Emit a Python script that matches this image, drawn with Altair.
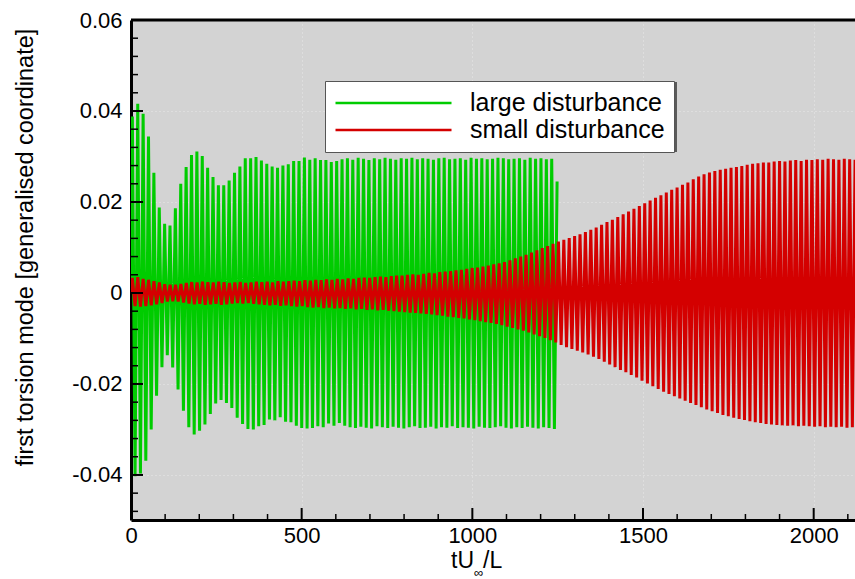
import altair as alt
import pandas as pd

# ---------------- data ----------------
series_names = ["large disturbance", "small disturbance"]
series_colors = ["#00cc00", "#d40000"]

# large disturbance: successive peak / trough values of the oscillation
large_first_peak = 4.0
large_period = 15.75
large_peaks = [
    0.0388, 0.0416, 0.0394, 0.0344, 0.0264, 0.0188, 0.0152, 0.0148, 0.0186, 0.0240,
    0.0277, 0.0303, 0.0311, 0.0301, 0.0275, 0.0255, 0.0237, 0.0237, 0.0247, 0.0264,
    0.0278, 0.0296, 0.0296, 0.0299, 0.0291, 0.0284, 0.0278, 0.0275, 0.0280, 0.0283,
    0.0290, 0.0290, 0.0298, 0.0293, 0.0296, 0.0292, 0.0292, 0.0288, 0.0290,
    0.0294, 0.0296, 0.0293, 0.0297, 0.0295, 0.0292, 0.0296, 0.0294, 0.0297, 0.0295,
    0.0293, 0.0296, 0.0295, 0.0297, 0.0294, 0.0296, 0.0295, 0.0293, 0.0296, 0.0297,
    0.0294, 0.0295, 0.0296, 0.0293, 0.0297, 0.0295, 0.0296, 0.0294, 0.0295, 0.0297,
    0.0296, 0.0294, 0.0295, 0.0296, 0.0293, 0.0297, 0.0295, 0.0296, 0.0294, 0.0295,
    0.0245,
]
large_troughs = [
    -0.0403, -0.0397, -0.0369, -0.0300, -0.0226, -0.0163, -0.0137, -0.0164, -0.0212, -0.0259,
    -0.0295, -0.0311, -0.0303, -0.0289, -0.0266, -0.0243, -0.0235, -0.0242, -0.0253, -0.0274,
    -0.0288, -0.0299, -0.0300, -0.0293, -0.0290, -0.0278, -0.0280, -0.0273, -0.0283, -0.0284,
    -0.0292, -0.0297, -0.0298, -0.0297, -0.0293, -0.0295, -0.0287, -0.0292, -0.0286,
    -0.0292, -0.0295, -0.0297, -0.0294, -0.0296, -0.0298, -0.0293, -0.0295, -0.0297, -0.0294,
    -0.0296, -0.0298, -0.0295, -0.0293, -0.0297, -0.0296, -0.0294, -0.0298, -0.0295, -0.0296,
    -0.0293, -0.0297, -0.0295, -0.0296, -0.0298, -0.0294, -0.0296, -0.0297, -0.0295, -0.0293,
    -0.0296, -0.0298, -0.0295, -0.0297, -0.0294, -0.0296, -0.0298, -0.0295, -0.0297, -0.0299,
]

# small disturbance
small_first_peak = 4.0
small_period = 15.8
small_peaks = [
    0.0033, 0.0035, 0.0031, 0.0029, 0.0026, 0.0023, 0.0019, 0.0018, 0.0018, 0.0020,
    0.0022, 0.0024, 0.0023, 0.0025, 0.0024, 0.0023, 0.0025, 0.0024, 0.0022, 0.0023,
    0.0024, 0.0022, 0.0023, 0.0025, 0.0024, 0.0025, 0.0023, 0.0026, 0.0025, 0.0026,
    0.0027, 0.0026, 0.0028, 0.0027, 0.0029, 0.0028, 0.0030, 0.0029, 0.0031, 0.0030,
    0.0032, 0.0031, 0.0033, 0.0034, 0.0033, 0.0035, 0.0036, 0.0035, 0.0037, 0.0038,
    0.0038, 0.0040, 0.0041, 0.0040, 0.0042, 0.0044, 0.0043, 0.0046, 0.0047, 0.0048,
    0.0050, 0.0051, 0.0053, 0.0055, 0.0056, 0.0058, 0.0060, 0.0063, 0.0065, 0.0068,
    0.0072, 0.0076, 0.0080, 0.0084, 0.0089, 0.0094, 0.0099, 0.0103, 0.0108, 0.0113,
    0.0117, 0.0121, 0.0125, 0.0129, 0.0134, 0.0139, 0.0144, 0.0150, 0.0156, 0.0161,
    0.0167, 0.0173, 0.0179, 0.0185, 0.0191, 0.0197, 0.0203, 0.0209, 0.0215, 0.0221,
    0.0227, 0.0232, 0.0238, 0.0243, 0.0250, 0.0256, 0.0261, 0.0265, 0.0268, 0.0271,
    0.0273, 0.0275, 0.0277, 0.0279, 0.0282, 0.0284, 0.0285, 0.0287, 0.0287, 0.0289,
    0.0290, 0.0289, 0.0291, 0.0292, 0.0290, 0.0293, 0.0292, 0.0294, 0.0293, 0.0295,
    0.0294, 0.0293, 0.0295, 0.0294, 0.0293,
]
small_troughs = [
    -0.0029, -0.0030, -0.0029, -0.0027, -0.0025, -0.0022, -0.0019, -0.0018, -0.0019, -0.0021,
    -0.0023, -0.0025, -0.0024, -0.0026, -0.0025, -0.0024, -0.0026, -0.0025, -0.0023, -0.0022,
    -0.0023, -0.0022, -0.0024, -0.0025, -0.0026, -0.0027, -0.0026, -0.0028, -0.0027, -0.0029,
    -0.0030, -0.0029, -0.0031, -0.0032, -0.0031, -0.0033, -0.0032, -0.0034, -0.0033, -0.0035,
    -0.0034, -0.0036, -0.0035, -0.0037, -0.0036, -0.0038, -0.0037, -0.0039, -0.0040, -0.0041,
    -0.0042, -0.0043, -0.0044, -0.0045, -0.0046, -0.0047, -0.0049, -0.0050, -0.0052, -0.0053,
    -0.0055, -0.0056, -0.0058, -0.0060, -0.0062, -0.0064, -0.0066, -0.0068, -0.0071, -0.0074,
    -0.0077, -0.0080, -0.0083, -0.0087, -0.0091, -0.0095, -0.0099, -0.0104, -0.0109, -0.0114,
    -0.0119, -0.0123, -0.0127, -0.0131, -0.0135, -0.0140, -0.0145, -0.0151, -0.0157, -0.0163,
    -0.0169, -0.0174, -0.0180, -0.0186, -0.0193, -0.0199, -0.0205, -0.0211, -0.0217, -0.0222,
    -0.0227, -0.0232, -0.0237, -0.0242, -0.0246, -0.0251, -0.0256, -0.0260, -0.0264, -0.0268,
    -0.0271, -0.0274, -0.0277, -0.0279, -0.0282, -0.0284, -0.0286, -0.0288, -0.0289, -0.0290,
    -0.0291, -0.0292, -0.0291, -0.0293, -0.0292, -0.0293, -0.0294, -0.0293, -0.0295, -0.0294,
    -0.0295, -0.0294, -0.0296, -0.0295,
]

x_domain = [0, 2121]
y_domain = [-0.0499, 0.06]
x_major = [0, 500, 1000, 1500, 2000]
x_minor = [100, 200, 300, 400, 600, 700, 800, 900, 1100, 1200, 1300, 1400,
           1600, 1700, 1800, 1900, 2100]
y_major = [-0.04, -0.02, 0.0, 0.02, 0.04, 0.06]
y_minor = [-0.048, -0.044, -0.036, -0.032, -0.028, -0.024, -0.016, -0.012, -0.008,
           -0.004, 0.004, 0.008, 0.012, 0.016, 0.024, 0.028, 0.032, 0.036, 0.044,
           0.048, 0.052, 0.056]
y_title = "first torsion mode [generalised coordinate]"
x_title_main = "tU"
x_title_sub = "\u221e"
x_title_end = "/L"


def build(name, t0, period, peaks, troughs):
    rows = [{"series": name, "t": 0.0, "v": 0.0}]
    for k, p in enumerate(peaks):
        rows.append({"series": name, "t": t0 + k * period, "v": p})
        if k < len(troughs):
            rows.append({"series": name, "t": t0 + (k + 0.5) * period, "v": troughs[k]})
    return rows


df = pd.DataFrame(
    build(series_names[0], large_first_peak, large_period, large_peaks, large_troughs)
    + build(series_names[1], small_first_peak, small_period, small_peaks, small_troughs)
)

W, H = 724, 500
SANS = "Liberation Sans, Arial, sans-serif"

xscale = alt.Scale(domain=x_domain, nice=False, zero=False)
yscale = alt.Scale(domain=y_domain, nice=False, zero=False)

x_axis = alt.Axis(values=x_major, format="d", title=None, ticks=False,
                  domainColor="black", domainWidth=3, labelFont=SANS,
                  labelFontSize=22, labelColor="black", labelPadding=5,
                  labelFlush=False, grid=True, gridColor="#e8e8e8",
                  gridDash=[1, 3], gridWidth=1)
y_axis = alt.Axis(values=y_major, title=y_title,
                  labelExpr="replace(format(datum.value, '.2~f'), '\u2212', '-')",
                  ticks=False, domainColor="black", domainWidth=3,
                  labelFont=SANS, labelFontSize=22, labelColor="black",
                  labelPadding=9, grid=True, gridColor="#e8e8e8",
                  gridDash=[1, 3], gridWidth=1,
                  titleFont=SANS, titleFontSize=23.5, titleFontWeight="normal",
                  titleColor="black", titleAngle=270, titleAlign="center",
                  titleBaseline="middle", titleX=-106, titleY=227)

lines = alt.Chart(df).mark_line(strokeWidth=3, clip=True).encode(
    x=alt.X("t:Q", scale=xscale, axis=x_axis),
    y=alt.Y("v:Q", scale=yscale, axis=y_axis),
    color=alt.Color("series:N",
                    scale=alt.Scale(domain=series_names, range=series_colors),
                    legend=alt.Legend(title=None, orient="none", legendX=194, legendY=61,
                                      symbolType="stroke", symbolSize=13456,
                                      symbolStrokeWidth=2.5, clipHeight=26, rowPadding=1,
                                      labelOffset=17, labelFont=SANS, labelFontSize=25,
                                      labelColor="black", padding=9, fillColor="white",
                                      strokeColor="#555555", labelLimit=400)),
)

ytick_major = alt.Chart(pd.DataFrame({"v": y_major})).mark_rule(color="black", strokeWidth=2).encode(
    y=alt.Y("v:Q", scale=yscale, axis=y_axis), x=alt.value(0), x2=alt.value(12))
ytick_minor = alt.Chart(pd.DataFrame({"v": y_minor})).mark_rule(color="black", strokeWidth=1.5).encode(
    y=alt.Y("v:Q", scale=yscale, axis=y_axis), x=alt.value(0), x2=alt.value(7))
xtick_major = alt.Chart(pd.DataFrame({"t": x_major})).mark_rule(color="black", strokeWidth=2).encode(
    x=alt.X("t:Q", scale=xscale, axis=x_axis), y=alt.value(H), y2=alt.value(H - 12))
xtick_minor = alt.Chart(pd.DataFrame({"t": x_minor})).mark_rule(color="black", strokeWidth=1.5).encode(
    x=alt.X("t:Q", scale=xscale, axis=x_axis), y=alt.value(H), y2=alt.value(H - 6))

top_border = alt.Chart(pd.DataFrame({"a": [0]})).mark_rule(color="black", strokeWidth=3).encode(
    x=alt.value(0), x2=alt.value(W), y=alt.value(0))

# drop shadow behind the legend box (the legend itself is drawn on top)
legend_shadow = alt.Chart(pd.DataFrame({"a": [0]})).mark_rect(color="#5a5a5a").encode(
    x=alt.value(196), x2=alt.value(546), y=alt.value(62), y2=alt.value(132))

xt1 = alt.Chart(pd.DataFrame({"s": [x_title_main]})).mark_text(
    align="right", baseline="alphabetic", font=SANS, fontSize=23, color="black").encode(
    text="s:N", x=alt.value(343), y=alt.value(548))
xt2 = alt.Chart(pd.DataFrame({"s": [x_title_sub]})).mark_text(
    align="left", baseline="alphabetic", font=SANS, fontSize=13, color="black").encode(
    text="s:N", x=alt.value(343), y=alt.value(557))
xt3 = alt.Chart(pd.DataFrame({"s": [x_title_end]})).mark_text(
    align="left", baseline="alphabetic", font=SANS, fontSize=23, color="black").encode(
    text="s:N", x=alt.value(352), y=alt.value(548))

chart = alt.layer(
    lines, ytick_major, ytick_minor, xtick_major, xtick_minor, top_border,
    legend_shadow, xt1, xt2, xt3
).properties(
    width=W, height=H,
    padding={"left": 131, "top": 20, "right": 0, "bottom": 59},
    autosize=alt.AutoSizeParams(type="none"),
    background="white",
).configure_view(fill="#d3d3d3", stroke="transparent")

chart.save("out.html", embed_options={"renderer": "svg", "actions": False})
